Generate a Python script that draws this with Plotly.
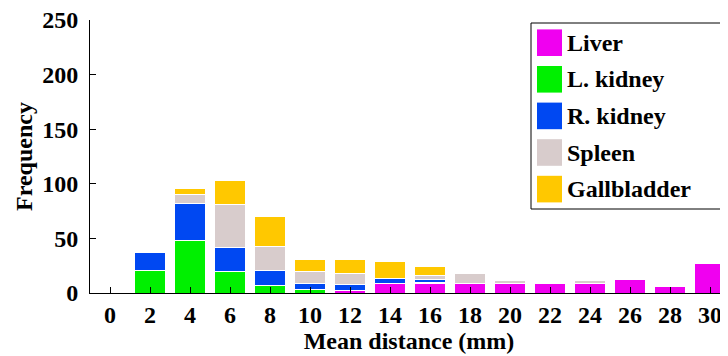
import plotly.graph_objects as go

# ---- data ----
distance = [0, 2, 4, 6, 8, 10, 12, 14, 16, 18, 20, 22, 24, 26, 28, 30]
liver       = [0, 0, 0, 0, 0, 0, 2, 9, 9, 9, 9, 9, 9, 12, 6, 27]
l_kidney    = [0, 21, 48, 20, 7, 3, 0, 0, 1, 0, 0, 0, 0, 0, 0, 1]
r_kidney    = [0, 16, 34, 22, 14, 6, 6, 4, 2, 0, 0, 0, 0, 0, 0, 0]
spleen      = [0, 0, 8, 39, 22, 11, 10, 0, 4, 9, 2, 0, 2, 0, 0, 0]
gallbladder = [0, 0, 6, 22, 27, 11, 13, 16, 8, 0, 1, 0, 0, 0, 0, 0]

series_names = ["Liver", "L. kidney", "R. kidney", "Spleen", "Gallbladder"]
series_values = [liver, l_kidney, r_kidney, spleen, gallbladder]
series_colors = ["#F000F0", "#00F000", "#0048F2", "#D8CCCC", "#FFC800"]

y_ticks = [0, 50, 100, 150, 200, 250]

FONT = "Liberation Serif"
FS = 24
# page body has an 8px margin: the figure is drawn from (8, 8)
OFF = 8
W, H = 728 - OFF, 356 - OFF
L, R, T, B = 90 - OFF, 0, 20 - OFF, 63

fig = go.Figure()
for name, vals, col in zip(series_names, series_values, series_colors):
    fig.add_trace(go.Bar(
        x=distance, y=vals, name=name, width=1.55,
        marker=dict(color=col, line=dict(color="white", width=1)),
        showlegend=False,
    ))

fig.update_layout(
    width=W, height=H,
    margin=dict(l=L, r=R, t=T, b=B, autoexpand=False),
    barmode="stack",
    plot_bgcolor="white", paper_bgcolor="white",
    font=dict(family=FONT, size=FS, color="black", weight="bold"),
    xaxis=dict(
        range=[-1, 30.9], tickvals=distance, ticktext=[str(d) for d in distance],
        showline=True, linecolor="black", linewidth=1,
        ticks="inside", ticklen=6, tickcolor="black",
        showgrid=False, zeroline=False, automargin=False,
        ticklabeloverflow="allow",
        tickfont=dict(family=FONT, size=FS, weight="bold"),
        title=dict(text="Mean distance (mm)", standoff=2,
                   font=dict(family=FONT, size=FS, weight="bold")),
    ),
    yaxis=dict(
        range=[0, 250], tickvals=y_ticks,
        showline=True, linecolor="black", linewidth=1,
        ticks="inside", ticklen=6, tickcolor="black",
        showgrid=False, zeroline=False, automargin=False,
        ticklabeloverflow="allow",
        tickfont=dict(family=FONT, size=FS, weight="bold"),
        ticklabelstandoff=6,
        title=dict(text="Frequency", standoff=2,
                   font=dict(family=FONT, size=FS, weight="bold")),
    ),
)

# ---- manual legend (large square swatches), positions in page pixels ----
pw, ph = W - L - R, H - T - B
def px(x): return (x - OFF - L) / pw
def py(y): return (H - B - (y - OFF)) / ph

shapes = [dict(type="rect", xref="paper", yref="paper",
               x0=px(531), x1=px(726), y0=py(209), y1=py(23),
               line=dict(color="black", width=1), fillcolor="white", layer="above")]
annotations = []
for i, (name, col) in enumerate(zip(series_names, series_colors)):
    cy = 42.7 + 36.6 * i
    shapes.append(dict(type="rect", xref="paper", yref="paper",
                       x0=px(537), x1=px(562), y0=py(cy + 13.3), y1=py(cy - 13.3),
                       line=dict(width=0), fillcolor=col, layer="above"))
    annotations.append(dict(xref="paper", yref="paper", x=px(565), y=py(cy),
                            xanchor="left", yanchor="middle", showarrow=False,
                            text=name, font=dict(family=FONT, size=FS, weight="bold")))
fig.update_layout(shapes=shapes, annotations=annotations)

fig.write_html("out.html")
